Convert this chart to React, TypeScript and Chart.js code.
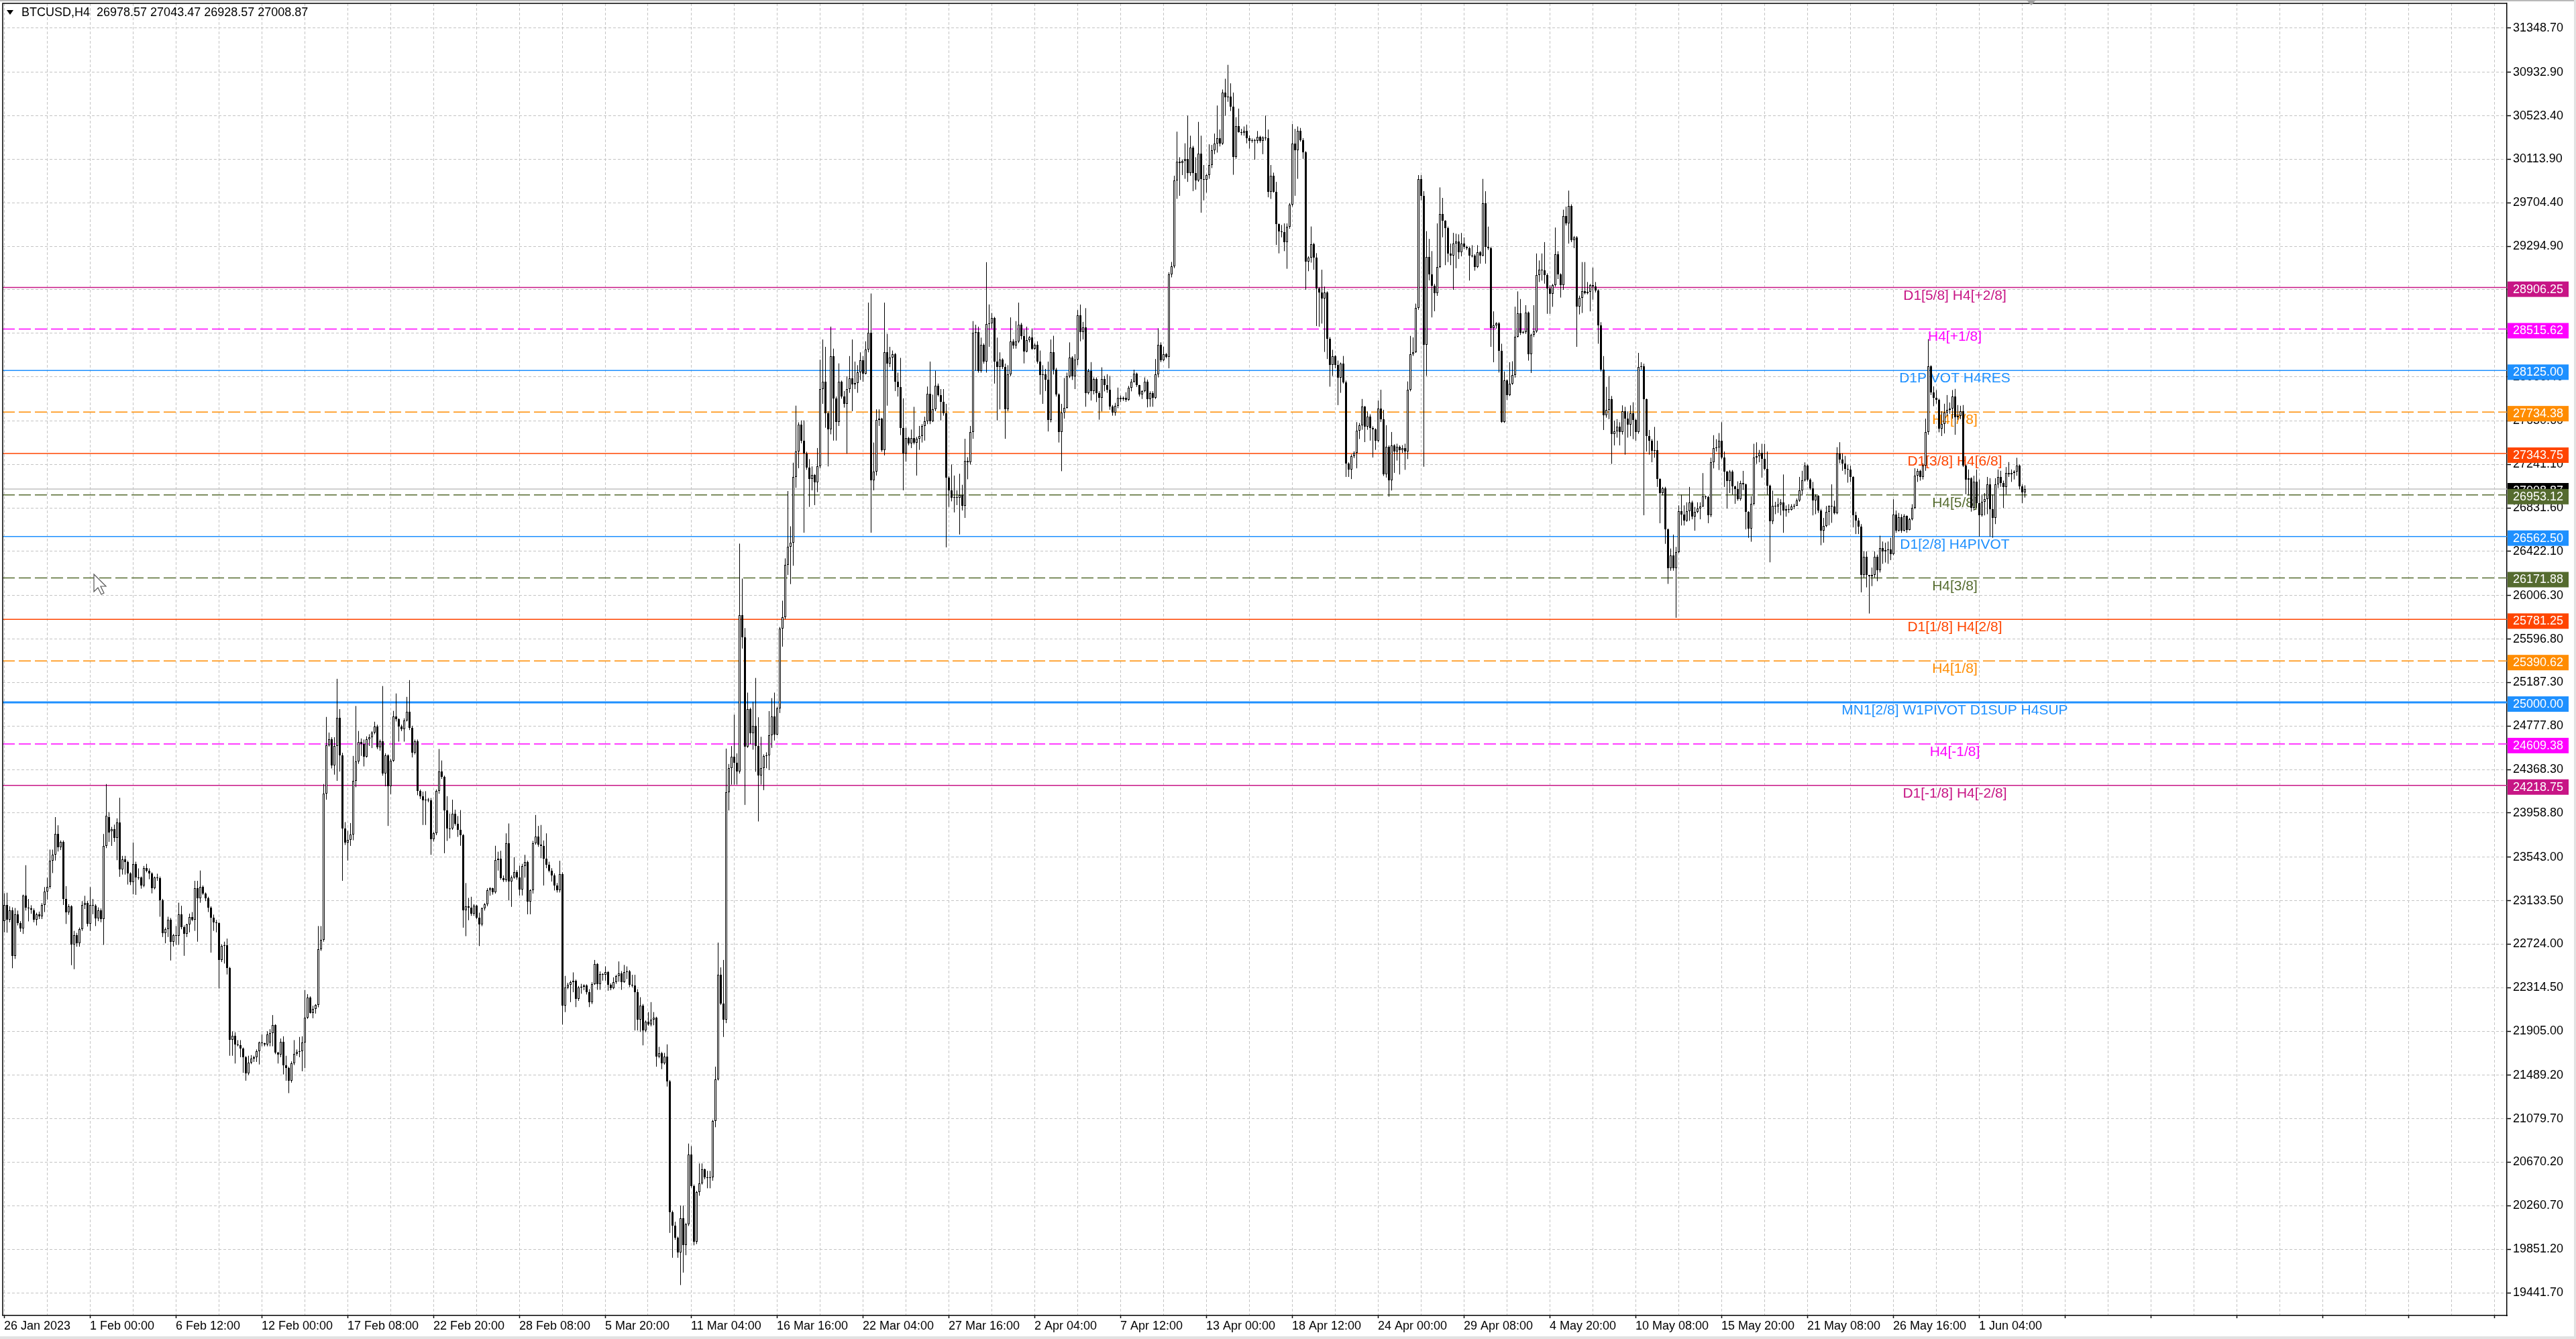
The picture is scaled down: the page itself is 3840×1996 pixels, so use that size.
import { useEffect, useRef } from "react";
import Chart from "chart.js/auto";

const SYMBOL = "BTCUSD";
const PERIOD = "H4";

// H4 bars as [open, high, low, close]
const janBars = [
  [22943,23202,22835,23093],[23093,23208,22832,22952],[22952,23080,22930,23041],[23041,23070,22497,22614],[22614,23064,22585,23005],[23005,23040,22900,22923],
  [22923,22940,22840,22873],[22873,23190,22820,23179],[23179,23467,23040,23067],[23067,23149,22938,23060],[23060,23090,23010,23050],[23041,23060,22930,22952],
  [22952,23020,22900,23002],[23002,23030,22960,22988],[22988,23110,22960,23093],[23093,23261,23026,23217],[23217,23349,23143,23261],[23261,23614,23246,23511],
  [23511,23614,23393,23564],[23564,23920,23511,23761],[23761,23843,23596,23634],[23634,23700,23610,23684],[23687,23700,23093,23152],[23152,23270,22914,23026],
  [23026,23100,23000,23079],[23079,23090,22526,22717],[22717,22849,22488,22806],[22806,22830,22700,22732],[22732,22880,22700,22864],[22864,23129,22849,23093],
  [23093,23179,23055,23114],[23114,23130,22890,22914],
];

const febBars = [
  [22914,23261,22849,23093],[23093,23149,23005,23090],[23085,23100,22894,22967],[22967,23070,22940,23040],[23040,23060,22930,22958],[22958,23761,22717,23649],
  [23649,24231,23628,23931],[23923,23967,23687,23776],[23790,23828,23649,23805],[23805,23849,23687,23723],[23723,23908,23514,23867],[23867,24102,23358,23426],
  [23426,23555,23379,23523],[23523,23555,23379,23496],[23496,23510,23285,23387],[23387,23400,23280,23305],[23305,23681,23193,23481],[23481,23500,23188,23349],
  [23349,23437,23330,23345],[23349,23360,23246,23276],[23276,23460,23260,23440],[23440,23480,23400,23414],[23414,23437,23335,23387],[23387,23400,23202,23252],
  [23252,23360,23240,23349],[23349,23387,23320,23343],[23343,23360,22982,23138],[23138,23150,22791,22826],[22826,22880,22732,22864],[22864,22982,22791,22952],
  [22952,22970,22570,22744],[22744,22820,22702,22806],[22806,22894,22717,22800],[22800,23114,22717,23005],[23005,23085,22864,22885],[22885,22900,22614,22820],
  [22820,22915,22791,22908],[22908,23011,22835,22982],[22982,23026,22940,22952],[22952,23320,22849,23252],[23252,23320,22747,23158],[23158,23417,23114,23261],
  [23261,23276,23188,23202],[23202,23210,23129,23158],[23158,23170,23026,23070],[23070,23080,22644,22973],[22973,23002,22849,22929],[22929,22952,22835,22925],
  [22925,22930,22306,22576],[22576,22723,22555,22708],[22708,22747,22541,22711],[22711,22776,22438,22497],[22497,22510,21673,21826],[21826,21903,21673,21864],
  [21864,21894,21600,21776],[21776,21820,21762,21770],[21770,21820,21659,21738],[21738,21750,21512,21659],[21659,21670,21438,21506],[21506,21673,21491,21609],
  [21609,21679,21594,21644],[21644,21673,21615,21659],[21659,21732,21615,21718],[21718,21806,21591,21797],[21797,21873,21762,21791],[21791,21795,21762,21776],
  [21776,21903,21762,21873],[21800,21923,21762,21885],[21885,22056,21762,21959],[21959,21970,21688,21703],[21703,21710,21600,21682],[21682,21835,21659,21803],
  [21803,21856,21497,21580],[21580,21673,21438,21556],[21556,21570,21321,21438],[21438,21620,21420,21600],[21600,21820,21585,21688],[21688,21732,21673,21712],
  [21712,21850,21659,21718],[21718,21856,21527,21797],[21797,22291,21556,22032],[22032,22253,22020,22223],[22223,22232,22070,22076],[22076,22144,22026,22114],
  [22114,22159,22070,22150],[22150,22894,22129,22673],[22673,22894,22660,22767],[22767,24231,22747,24143],[24143,24863,24084,24593],[24593,24716,24584,24652],
  [24652,24672,24378,24408],[24408,24672,24320,24590],[24590,25222,24261,24857],[24857,24937,24349,24502],[24502,24525,23320,23814],[23814,23873,23658,23681],
  [23681,23790,23511,23708],[23708,23864,23649,23755],[23755,24496,23702,24261],[24261,24966,24202,24446],[24446,24731,24422,24628],[24628,24660,24496,24610],
  [24610,24650,24397,24491],[24491,24680,24480,24655],[24655,24700,24590,24670],[24670,24730,24570,24715],[24715,24818,24700,24775],[24775,24790,24560,24575],
  [24575,24650,24545,24631],[24631,25154,24310,24328],[24328,24520,24210,24500],[24500,24510,23837,24210],[24210,24470,24136,24453],[24453,24920,24440,24865],
  [24865,25084,24820,24842],[24842,24850,24631,24771],[24771,24790,24730,24748],[24748,24850,24631,24832],[24832,25052,24820,24911],[24911,25210,24740,24762],
  [24762,24780,24482,24528],[24528,24650,24510,24631],[24631,24650,24126,24164],[24164,24180,24090,24117],[24117,24160,23846,24080],[24080,24164,23846,24085],
  [24085,24100,24060,24080],[24080,24100,23565,23710],[23710,23780,23690,23766],[23766,24180,23750,24164],[24164,24561,24140,24351],[24351,24453,24280,24300],
  [24300,24310,23580,23986],[23986,24117,23696,23813],[23813,23953,23720,23810],[23810,24084,23800,23953],[23953,23990,23840,23860],[23860,23930,23734,23799],
  [23799,23986,23650,23752],[23752,23760,22879,23042],[23042,23299,22799,23080],[23080,23159,22949,23070],[23070,23170,22990,23010],[23010,23100,22990,23089],
  [23089,23095,22960,22972],[22972,23020,22706,22911],[22911,23070,22893,23061],[23061,23110,23040,23098],[23098,23250,23080,23229],[23229,23260,23180,23248],
  [23248,23255,23190,23215],[23215,23650,23200,23519],[23519,23594,23416,23528],[23528,23603,23330,23346],[23346,23370,23310,23328],[23328,23767,23310,23673],
  [23673,23860,23135,23313],[23313,23370,23075,23350],[23350,23542,23340,23402],[23402,23420,23330,23350],[23350,23463,23182,23238],[23238,23480,23182,23460],
  [23460,23565,23350,23495],[23495,23510,23005,23126],
];

const marBars = [
  [23126,23240,23005,23229],[23229,23696,23200,23673],[23673,23940,23660,23734],[23734,23837,23640,23659],[23659,23846,23533,23650],[23650,23700,23276,23528],
  [23528,23767,23439,23472],[23472,23500,23400,23416],[23416,23439,23313,23369],[23369,23390,23229,23276],[23276,23300,23210,23229],[23229,23509,23210,23383],
  [23383,23400,21967,22145],[22145,22425,22084,22318],[22318,22360,22300,22341],[22341,22380,22178,22365],[22365,22458,22271,22378],[22378,22390,22131,22210],
  [22210,22330,22190,22318],[22318,22350,22257,22325],[22325,22345,22290,22332],[22332,22345,22250,22271],[22271,22300,22131,22178],[22178,22365,22160,22350],
  [22350,22575,22340,22537],[22537,22545,22294,22350],[22350,22467,22294,22444],[22444,22450,22380,22435],[22435,22514,22380,22458],[22458,22470,22285,22341],
  [22341,22355,22290,22308],[22308,22411,22300,22365],[22365,22435,22350,22421],[22421,22561,22370,22449],[22449,22470,22294,22365],[22365,22528,22360,22458],
  [22458,22514,22395,22470],[22470,22480,22320,22341],[22341,22435,22318,22335],[22335,22435,21911,22271],[22271,22300,21911,22014],[22014,22224,21897,22145],
  [22145,22160,21771,21911],[21911,22005,21895,21991],[21991,22084,21955,21970],[21970,22178,21950,22014],[22014,22084,21960,22030],[22030,22040,21570,21664],
  [21664,21757,21650,21697],[21697,21710,21547,21603],[21603,21700,21590,21664],[21664,21780,21383,21430],[21430,21445,20005,20201],[20201,20215,19771,20075],
  [20075,20110,19940,19958],[19958,19970,19771,19818],[19818,20262,19514,20145],[20145,20262,19631,19888],[19888,20100,19795,20089],[20089,20846,20070,20743],
  [20743,20822,20430,20449],[20449,20460,19888,19921],[19921,20400,19900,20392],[20392,20659,20355,20472],[20472,20659,20460,20603],[20603,20610,20510,20528],
  [20528,20589,20425,20519],[20519,20589,20425,20528],[20528,21070,20496,21056],[21056,21570,21000,21453],[21453,22738,21440,22435],[22435,22505,22150,22164],
  [22164,22575,21850,22014],[22014,24565,21980,24156],[24156,24420,23983,24382],[24382,24589,24226,24486],[24486,24884,24226,24430],[24430,24520,24226,24347],
  [24347,26495,24330,25819],[25819,26166,25507,25611],[25611,25700,24035,24582],[24582,25092,24572,24936],[24936,24950,24607,24710],[24710,25005,24555,24780],
  [24780,25230,24347,24589],[24589,24860,23879,24312],[24312,24676,24226,24382],[24382,24510,24174,24496],[24496,24530,24380,24500],[24500,24918,24364,24693],
  [24693,25040,24572,24866],[24866,25092,24641,24700],[24700,24960,24690,24946],[24946,25710,24900,25698],[25698,25958,25525,25802],[25802,26356,25784,26294],
  [26294,26990,26200,26467],[26467,26658,26114,26502],[26502,27257,26287,27125],[27125,27794,27021,27361],[27361,27637,27205,27613],[27613,27655,27440,27465],
  [27465,27655,26598,27343],[27343,27360,27190,27212],[27212,27291,26841,27101],[27101,27222,26997,27143],[27143,27150,26858,27073],[27073,27395,26980,27222],
  [27222,28227,27205,27950],[27950,28417,27811,28019],[28019,28348,27586,27724],[27724,27740,27222,27569],[27569,28538,27524,28261],[28261,28331,27465,27863],
  [27863,27880,27465,27638],[27638,28192,27603,28019],[28019,28030,27860,27880],[27880,27932,27776,27811],[27811,28071,27343,27950],[27950,28261,27915,28054],
  [28054,28417,27742,27995],[27995,28209,27950,28009],[28009,28175,27915,28105],[28105,28296,28036,28220],[28220,28261,28019,28098],[28098,28400,28088,28320],
  [28320,28764,28296,28480],[28480,28850,26598,27094],[27094,27447,26997,27170],[27170,27759,27136,27662],[27662,27759,27603,27672],[27672,27680,27360,27378],
  [27378,28764,27326,28296],[28296,28469,27794,28192],[28192,28348,28157,28244],[28244,28313,28123,28279],[28279,28290,27932,28019],[28019,28105,27880,27967],
  [27967,28244,27517,27586],[27586,27863,26997,27343],[27343,27586,27267,27489],[27489,27500,27420,27440],[27440,27569,27395,27489],[27489,27783,27430,27447],
  [27447,27500,27136,27482],[27482,27603,27378,27510],[27510,27620,27447,27603],[27603,27690,27465,27648],[27648,27974,27620,27905],[27905,28209,27620,27648],
  [27648,27898,27640,27759],[27759,28123,27742,27984],[27984,28002,27880,27891],[27891,27950,27655,27828],[27828,27950,27700,27724],[27724,27811,26460,27118],
  [27118,27130,26841,26997],[26997,27240,26893,26928],[26928,27136,26789,26935],[26935,26997,26858,26928],[26928,27153,26581,26955],[26955,27049,26807,26848],
  [26848,27482,26737,27274],[27274,27309,27101,27260],[27260,27603,27240,27544],[27544,28590,27482,28480],[28480,28556,28123,28487],[28487,28538,28105,28123],
  [28123,28435,28105,28365],[28365,28380,28190,28209],[28209,29145,28105,28563],[28563,28747,28348,28570],[28570,28667,28521,28618],[28618,28630,28002,28209],
  [28209,28435,27655,28157],[28157,28296,27759,28227],[28227,28240,28140,28157],[28157,28190,27482,27759],[27759,28175,27742,28088],[28088,28625,28071,28400],
  [28400,28420,28330,28358],
];

const aprBars = [
  [28358,28590,28331,28400],[28400,28764,28383,28556],[28556,28573,28417,28452],[28452,28510,28192,28306],[28306,28538,28296,28410],[28410,28450,28390,28435],
  [28435,28521,28320,28331],[28331,28380,28320,28365],[28365,28400,28190,28209],[28209,28313,27898,28081],[28081,28175,27811,28088],[28088,28140,27932,28036],
  [28036,28209,27551,27662],[27662,28417,27637,28296],[28296,28452,28088,28133],[28133,28150,27880,27898],[27898,27910,27447,27544],[27544,27811,27177,27731],
  [27731,28054,27672,27776],[27776,28105,27766,28071],[28071,28390,28054,28244],[28244,28260,28036,28071],[28071,28279,27950,28227],[28227,28694,28175,28643],
  [28643,28746,28400,28487],[28487,28583,28417,28530],[28530,28712,27784,27915],[27915,28140,27900,28121],[28121,28204,27842,27929],[27929,28060,27900,28045],
  [28045,28060,27828,27915],[27915,27930,27662,27871],[27871,28155,27740,28045],[28045,28074,27929,27990],[27990,28090,27915,27944],[27944,28074,27755,27784],
  [27784,27800,27700,27726],[27726,27820,27700,27790],[27790,27964,27770,27871],[27871,27890,27828,27857],[27857,27880,27840,27871],[27871,27920,27830,27850],
  [27850,27980,27840,27964],[27964,28045,27929,28022],[28022,28132,28010,28097],[28097,28105,27970,27987],[27987,27990,27880,27900],[27900,27940,27857,27929],
  [27929,28060,27920,28022],[28022,28040,27778,27857],[27857,27929,27784,27915],[27915,27930,27784,27871],[27871,28233,27857,28089],[28089,28523,28060,28370],
  [28370,28390,28204,28219],[28219,28349,28213,28277],[28277,28290,28240,28254],[28254,29050,28146,29031],[29031,29147,29002,29104],[29104,29959,29089,29915],
  [29915,30374,29741,30089],[30089,30133,29770,30080],[30080,30110,29965,30098],[30098,30264,29930,30118],[30118,30525,29901,29982],[29982,30336,29959,30226],
  [30226,30240,29814,29982],[29982,30133,29828,29915],[29915,30466,29901,30168],[30168,30336,29611,29924],[29924,30060,29727,29920],[29920,29974,29800,29968],
  [29968,30255,29930,30060],[30060,30249,30031,30197],[30197,30356,30162,30264],[30264,30620,30177,30313],[30313,30394,30235,30261],[30261,30771,30249,30742],
  [30742,30872,30525,30699],[30699,31003,30655,30707],[30707,30829,30568,30612],[30612,30742,29968,30133],[30133,30510,30118,30429],[30429,30591,30365,30371],
  [30371,30400,30340,30365],[30365,30423,30336,30379],[30379,30440,30264,30313],[30313,30336,30214,30284],[30284,30310,30270,30295],[30295,30307,30110,30290],
  [30290,30380,30264,30322],[30322,30335,30270,30284],[30284,30330,30162,30319],[30319,30525,30290,30310],[30310,30394,29756,29808],[29808,30060,29741,29959],
  [29959,29988,29800,29808],[29808,29901,29307,29501],[29501,29510,29228,29437],[29437,29495,29379,29430],[29430,29510,29249,29336],[29336,29510,29083,29481],
  [29481,29700,29460,29684],[29684,30446,29669,30264],[30264,30400,29770,30197],[30197,30423,29930,30380],[30380,30409,30280,30293],[30293,30313,30118,30177],
  [30177,30190,28886,29153],[29153,29200,29060,29185],[29185,29481,29141,29315],[29315,29327,29074,29185],[29185,29230,28544,28900],[28900,28910,28538,28857],
  [28857,29074,28567,28800],[28800,28915,28300,28857],[28857,28870,28233,28422],[28422,28440,27973,28175],[28175,28320,28074,28262],[28262,28270,28146,28175],
  [28175,28219,27799,28060],[28060,28200,27915,28190],[28190,28262,28002,28016],[28016,28030,27123,27248],[27248,27260,27123,27190],[27190,27335,27103,27320],
  [27320,27364,27300,27349],[27349,27639,27204,27558],[27558,27630,27480,27610],[27610,27857,27567,27784],[27784,27790,27451,27596],[27596,27740,27567,27691],
  [27691,27712,27465,27581],[27581,27600,27306,27570],[27570,27580,27378,27465],[27465,27842,27450,27770],[27770,27944,27639,27668],[27668,27755,27132,27146],
  [27146,27610,27117,27407],[27407,27420,26937,27088],[27088,27546,26995,27422],[27422,27430,27161,27364],[27364,27436,27277,27407],[27407,27420,27146,27378],
  [27378,27422,27349,27393],[27393,27436,27190,27364],[27364,28022,27291,27944],[27944,28451,27929,28277],[28277,28437,28262,28300],[28300,28755,28291,28712],
  [28712,29965,28697,29930],[29930,29965,29727,29770],[29770,29814,27219,28370],[28370,29437,28074,29196],[29196,29364,28973,29031],[29031,29249,28625,28924],
  [28924,28940,28683,28851],[28851,29510,28828,29098],[29098,29849,29089,29596],[29596,29750,29379,29538],[29538,29540,29117,29465],[29465,29480,29146,29227],
  [29227,29320,29117,29204],[29204,29421,28885,29320],[29320,29413,29088,29340],[29340,29407,29175,29239],[29239,29420,29200,29320],[29320,29378,29270,29291],
  [29291,29300,29260,29277],[29277,29290,28972,29204],[29204,29305,29190,29210],[29210,29220,29065,29100],[29100,29305,29090,29239],[29239,29250,29131,29210],
  [29210,29929,29200,29697],[29697,29813,29131,29291],[29291,29480,29260,29277],[29277,29290,28348,28522],[28522,28682,28203,28551],
];

const mayBars = [
  [28551,28580,28520,28566],[28566,28580,28106,28313],[28313,28377,27632,27638],[27638,28116,27632,28029],[28029,28040,27847,27893],[27893,28203,27885,28000],
  [28000,28212,27990,28082],[28082,28726,28058,28444],[28444,28870,28436,28662],[28662,28798,28460,28479],[28479,28500,28470,28485],[28485,28740,28470,28667],
  [28667,28680,28218,28276],[28276,28470,28102,28459],[28459,28740,28440,28494],[28494,29227,28480,29024],[29024,29161,28958,29073],[29073,29227,28972,29070],
  [29070,29334,28943,29024],[29024,29040,28659,28900],[28900,28928,28659,28850],[28850,28940,28725,28928],[28928,29471,28914,29219],[29219,29248,28986,29030],
  [29030,29040,28812,28928],[28928,29639,28885,29581],[29581,29668,29490,29508],[29508,29819,29320,29674],[29674,29690,29334,29355],[29355,29392,29277,29378],
  [29378,29390,28348,28725],[28725,28830,28653,28812],[28812,29146,28667,28870],[28870,29146,28842,28856],[28856,28958,28842,28863],[28863,28940,28682,28928],
  [28928,29094,28792,28914],[28914,28958,28860,28879],[28879,28890,28377,28551],[28551,28580,28116,28131],[28131,28261,27565,27702],[27702,27971,27681,27754],
  [27754,28073,27667,27855],[27855,27885,27246,27528],[27528,27653,27420,27551],[27551,27667,27493,27595],[27595,27638,27420,27548],[27548,27797,27522,27740],
  [27740,27783,27333,27673],[27673,27740,27493,27615],[27615,27797,27507,27725],[27725,27826,27479,27661],[27661,27670,27464,27545],[27545,28291,27530,28160],
  [28160,28203,28131,28166],[28166,28189,26762,27855],[27855,27860,27362,27507],[27507,27565,27333,27464],[27464,27480,27261,27371],[27371,27594,27304,27377],
  [27377,27464,27029,27102],[27102,27110,26687,26971],[26971,27029,26950,27015],[27015,27030,26493,26629],[26629,26637,26116,26261],[26261,26449,26240,26385],
  [26385,26580,26240,26261],[26261,26464,25797,26414],[26414,26855,26406,26803],[26803,26956,26666,26768],[26768,26855,26666,26710],[26710,26884,26700,26803],
  [26803,27029,26710,26884],[26884,26899,26724,26753],[26753,26841,26617,26797],[26797,26884,26782,26826],[26826,26884,26724,26846],[26846,27159,26841,26942],
  [26942,26948,26913,26936],[26936,26945,26687,26762],[26762,27304,26745,27261],[27261,27516,27203,27397],[27397,27478,27362,27400],[27400,27536,27188,27464],
  [27464,27638,27290,27304],[27304,27362,27029,27174],[27174,27180,26826,27087],[27087,27188,26971,27174],[27174,27188,26956,27035],[27035,27040,26870,27006],
  [27006,27081,26899,26913],[26913,27087,26899,27064],[27064,27180,27000,27052],[27052,27060,26629,26791],[26791,26800,26550,26637],[26637,26942,26513,26870],
  [26870,27435,26855,27304],[27304,27449,27246,27319],[27319,27377,27261,27348],[27348,27435,27116,27290],[27290,27435,27188,27197],[27197,27362,26956,27038],
  [27038,27050,26319,26704],[26704,26994,26679,26850],[26850,26889,26772,26845],[26845,26924,26784,26866],[26866,26913,26761,26885],[26885,27146,26597,26807],
  [26807,26854,26749,26819],[26819,26866,26784,26810],[26810,26866,26807,26847],[26847,26870,26820,26854],[26854,26920,26850,26901],[26901,27123,26889,26994],
  [26994,27181,26948,27088],[27088,27260,27080,27228],[27228,27240,27080,27100],[27100,27110,27000,27018],[27018,27076,26761,26901],[26901,26960,26772,26948],
  [26948,26950,26784,26807],[26807,26820,26480,26620],[26620,26737,26504,26663],[26663,26849,26650,26796],[26796,26854,26667,26849],[26849,27053,26691,26842],
  [26842,26900,26770,26784],[26784,27403,26772,27345],[27345,27450,27251,27286],[27286,27345,27181,27251],[27251,27321,27146,27200],[27200,27240,27069,27195],
  [27195,27228,27076,27123],[27123,27130,26648,26765],[26765,26796,26585,26709],[26709,26737,26585,26656],[26656,26679,26036,26200],[26200,26422,26176,26368],
  [26368,26422,26083,26200],[26200,26200,25837,26188],[26188,26270,26095,26200],[26200,26422,26176,26368],[26368,26391,26141,26242],[26242,26569,26223,26452],
  [26452,26515,26305,26422],[26422,26504,26317,26433],[26433,26515,26305,26438],[26438,26550,26340,26398],[26398,26913,26386,26772],[26772,26807,26597,26616],
  [26616,26784,26609,26742],[26742,26772,26597,26620],[26620,26772,26610,26757],[26757,26760,26597,26625],[26625,26737,26620,26726],[26726,26866,26714,26835],
  [26835,27205,26820,27134],[27134,27200,27076,27181],[27181,27190,27088,27123],[27123,27251,27099,27228],[27228,27672,27181,27543],[27543,28420,27520,28162],
  [28162,28174,27894,27917],[27917,27976,27789,27871],[27871,27941,27812,27847],[27847,27860,27543,27578],[27578,27742,27508,27620],[27620,27812,27532,27730],
  [27730,27894,27695,27754],[27754,27824,27719,27765],[27765,27941,27672,27882],[27882,27952,27520,27684],[27684,27800,27660,27700],[27700,27793,27667,27742],
  [27742,27800,27216,27228],[27228,27240,26959,27099],[27099,27193,26948,27111],[27111,27120,26796,26831],[26831,27134,26807,27076],[27076,27193,26831,26877],
  [26877,27099,26562,26765],[26765,26959,26749,26889],
];

const junBars = [
  [26889,26971,26761,26913],[26913,27123,26772,27053],[27053,27111,26562,26819],[26819,26959,26550,26737],[26737,27111,26679,27053],[27053,27193,27018,27123],
  [27123,27181,27030,27064],[27064,27088,26831,27030],[27030,27216,26959,27158],[27158,27263,27123,27146],[27146,27193,27076,27158],[27158,27186,27099,27170],
  [27170,27303,27134,27228],[27228,27240,27006,27036],[27036,27053,26877,26978.57],[26978.57,27043.47,26928.57,27008.87],
];

const dateLabels = [
  "26 Jan 2023", "1 Feb 00:00", "6 Feb 12:00", "12 Feb 00:00", "17 Feb 08:00", "22 Feb 20:00",
  "28 Feb 08:00", "5 Mar 20:00", "11 Mar 04:00", "16 Mar 16:00", "22 Mar 04:00", "27 Mar 16:00",
  "2 Apr 04:00", "7 Apr 12:00", "13 Apr 00:00", "18 Apr 12:00", "24 Apr 00:00", "29 Apr 08:00",
  "4 May 20:00", "10 May 08:00", "15 May 20:00", "21 May 08:00", "26 May 16:00", "1 Jun 04:00",
];

const priceTicks = [
  31348.7, 30932.9, 30523.4, 30113.9, 29704.4, 29294.9, 28885.4, 28475.9, 28066.4, 27650.6,
  27241.1, 26831.6, 26422.1, 26006.3, 25596.8, 25187.3, 24777.8, 24368.3, 23958.8, 23543.0,
  23133.5, 22724.0, 22314.5, 21905.0, 21489.2, 21079.7, 20670.2, 20260.7, 19851.2, 19441.7,
];

const levelPrices = [
  28906.25, 28515.62, 28125.0, 27734.38, 27343.75, 26953.12, 26562.5,
  26171.88, 25781.25, 25390.62, 25000.0, 24609.38, 24218.75,
];
const levelTexts = [
  "D1[5/8] H4[+2/8]", "H4[+1/8]", "D1PIVOT H4RES", "H4[7/8]", "D1[3/8] H4[6/8]", "H4[5/8]", "D1[2/8] H4PIVOT",
  "H4[3/8]", "D1[1/8] H4[2/8]", "H4[1/8]", "MN1[2/8] W1PIVOT D1SUP H4SUP", "H4[-1/8]", "D1[-1/8] H4[-2/8]",
];

const PRICE_MIN = 19227;
const PRICE_MAX = 31582;

// styling (kept apart from the values)
const DASHED = [18, 6];
const LEVEL_STYLES = [
  { color: "#C71585", dash: [], width: 1.5 },
  { color: "#FF00FF", dash: DASHED, width: 1.5 },
  { color: "#1E90FF", dash: [], width: 1.5 },
  { color: "#FF8C00", dash: DASHED, width: 1.5 },
  { color: "#FF4500", dash: [], width: 1.5 },
  { color: "#556B2F", dash: DASHED, width: 1.5 },
  { color: "#1E90FF", dash: [], width: 1.5 },
  { color: "#556B2F", dash: DASHED, width: 1.5 },
  { color: "#FF4500", dash: [], width: 1.5 },
  { color: "#FF8C00", dash: DASHED, width: 1.5 },
  { color: "#1E90FF", dash: [], width: 3 },
  { color: "#FF00FF", dash: DASHED, width: 1.5 },
  { color: "#C71585", dash: [], width: 1.5 },
];
const FONT = "Liberation Sans";
const GRID = "#C4C4C4";
const BARS_PER_LABEL = 32;
const BARS_PER_GRID = 16;
const VISIBLE_BARS = 933.25; // chart width in bars, incl. the empty shift on the right

const bars = [...janBars, ...febBars, ...marBars, ...aprBars, ...mayBars, ...junBars];

const gridTicks: number[] = [];
for (let v = 0; v <= VISIBLE_BARS - 1; v += BARS_PER_GRID) gridTicks.push(v);

const mt4Plugin = {
  id: "mt4",
  beforeDraw(chart: any) {
    const { ctx, width, height } = chart;
    ctx.save();
    ctx.fillStyle = "#fff";
    ctx.fillRect(0, 0, width, height);
    ctx.restore();
  },
  beforeDatasetsDraw(chart: any) {
    const { ctx, chartArea: a, scales } = chart;
    const ys = scales.y;
    const xs = scales.x;
    ctx.save();
    ctx.beginPath();
    ctx.rect(a.left, a.top, a.right - a.left, a.bottom - a.top);
    ctx.clip();

    // bid line
    const last = bars[bars.length - 1];
    const yb = ys.getPixelForValue(last[3]);
    ctx.strokeStyle = "#C0C0C0";
    ctx.lineWidth = 1.5;
    ctx.setLineDash([]);
    ctx.beginPath();
    ctx.moveTo(a.left, yb);
    ctx.lineTo(a.right, yb);
    ctx.stroke();

    levelPrices.forEach((p, i) => {
      const st = LEVEL_STYLES[i];
      const y = ys.getPixelForValue(p);
      ctx.strokeStyle = st.color;
      ctx.lineWidth = st.width;
      ctx.setLineDash(st.dash);
      ctx.beginPath();
      ctx.moveTo(a.left, y);
      ctx.lineTo(a.right, y);
      ctx.stroke();
    });

    ctx.setLineDash([]);
    ctx.font = `21px "${FONT}"`;
    ctx.textAlign = "center";
    ctx.textBaseline = "alphabetic";
    const lx = xs.getPixelForValue(bars.length - 27);
    levelPrices.forEach((p, i) => {
      const y = ys.getPixelForValue(p);
      ctx.fillStyle = LEVEL_STYLES[i].color;
      ctx.fillText(levelTexts[i], lx, y + 18);
    });
    ctx.restore();
  },
  afterDatasetsDraw(chart: any) {
    const { ctx, chartArea: a, scales } = chart;
    const xs = scales.x;
    const ys = scales.y;
    ctx.save();
    ctx.beginPath();
    ctx.rect(a.left, a.top, a.right - a.left, a.bottom - a.top);
    ctx.clip();
    bars.forEach(([o, h, l, c], i) => {
      const px = Math.round(xs.getPixelForValue(i));
      const yh = ys.getPixelForValue(h);
      const yl = ys.getPixelForValue(l);
      const top = Math.round(ys.getPixelForValue(Math.max(o, c)));
      const bot = Math.round(ys.getPixelForValue(Math.min(o, c)));
      const bh = Math.max(1, bot - top);
      ctx.fillStyle = "#000";
      ctx.fillRect(px, yh, 1, Math.max(1, yl - yh));
      ctx.fillRect(px - 1, top, 3, bh);
      if (c > o && bh > 2) {
        ctx.fillStyle = "#fff";
        ctx.fillRect(px, top + 1, 1, bh - 2);
      }
    });
    ctx.restore();
  },
  afterDraw(chart: any) {
    const { ctx, chartArea: a, scales, width, height } = chart;
    const ys = scales.y;
    const xs = scales.x;
    ctx.save();

    // window frame
    ctx.fillStyle = "#B8B8B8";
    ctx.fillRect(0, 0, width, 2);
    ctx.fillStyle = "#E2E2E2";
    ctx.fillRect(width - 3, 0, 3, height);
    ctx.fillRect(0, height - 4, width, 4);
    ctx.strokeStyle = "#000";
    ctx.lineWidth = 1.5;
    ctx.beginPath();
    ctx.moveTo(a.left, a.bottom);
    ctx.lineTo(a.left, a.top);
    ctx.lineTo(a.right, a.top);
    ctx.stroke();

    // shift marker
    const sx = xs.getPixelForValue(bars.length + 1.5);
    ctx.fillStyle = "#A0A0A0";
    ctx.beginPath();
    ctx.moveTo(sx - 7, 0);
    ctx.lineTo(sx + 7, 0);
    ctx.lineTo(sx, 8);
    ctx.closePath();
    ctx.fill();

    // price labels on the axis
    const boxX = ys.left + 1;
    const boxW = 91;
    const drawBox = (price: number, bg: string) => {
      const y = ys.getPixelForValue(price);
      ctx.fillStyle = bg;
      ctx.fillRect(boxX, y - 9, boxW, 23);
      ctx.fillStyle = "#fff";
      ctx.fillText(price.toFixed(2), ys.left + 9, y + 3);
    };
    ctx.font = `18px "${FONT}"`;
    ctx.textAlign = "left";
    ctx.textBaseline = "middle";
    const last = bars[bars.length - 1];
    drawBox(last[3], "#000");
    levelPrices.forEach((p, i) => drawBox(p, LEVEL_STYLES[i].color));

    // header
    ctx.fillStyle = "#000";
    ctx.beginPath();
    ctx.moveTo(10, 15);
    ctx.lineTo(20, 15);
    ctx.lineTo(15, 22);
    ctx.closePath();
    ctx.fill();
    ctx.font = `18px "${FONT}"`;
    ctx.textBaseline = "middle";
    const [o, h, l, c] = last;
    ctx.fillText(`${SYMBOL},${PERIOD}  ${o.toFixed(2)} ${h.toFixed(2)} ${l.toFixed(2)} ${c.toFixed(2)}`, 32, 19);

    // mouse pointer left on the chart
    const cx = 140;
    const cy = 856;
    ctx.beginPath();
    ctx.moveTo(cx, cy);
    ctx.lineTo(cx, cy + 26);
    ctx.lineTo(cx + 6, cy + 20);
    ctx.lineTo(cx + 11, cy + 30);
    ctx.lineTo(cx + 15, cy + 28);
    ctx.lineTo(cx + 10, cy + 18);
    ctx.lineTo(cx + 18, cy + 18);
    ctx.closePath();
    ctx.fillStyle = "#fff";
    ctx.fill();
    ctx.strokeStyle = "#555";
    ctx.lineWidth = 1.2;
    ctx.stroke();
    ctx.restore();
  },
};

function BtcChart() {
  const canvasRef = useRef<HTMLCanvasElement>(null);
  const chartRef = useRef<any>(null);

  useEffect(() => {
    document.body.style.margin = "0";
    if (!canvasRef.current) return;
    if (chartRef.current) chartRef.current.destroy();

    chartRef.current = new Chart(canvasRef.current, {
      type: "line",
      data: {
        datasets: [
          {
            data: bars.map((b, i) => ({ x: i, y: b[3] })),
            showLine: false,
            pointRadius: 0,
            borderWidth: 0,
          },
        ],
      },
      options: {
        responsive: false,
        animation: false,
        devicePixelRatio: 1,
        events: [],
        layout: { padding: { left: 4, top: 5, right: 0, bottom: 0 } },
        plugins: { legend: { display: false }, tooltip: { enabled: false } },
        scales: {
          x: {
            type: "linear",
            position: "bottom",
            min: -0.5,
            max: VISIBLE_BARS - 0.5,
            afterBuildTicks: (s: any) => {
              s.ticks = gridTicks.map((v) => ({ value: v }));
            },
            afterFit: (s: any) => {
              s.height = 35;
              s.paddingLeft = 0;
              s.paddingRight = 0;
            },
            ticks: {
              autoSkip: false,
              maxRotation: 0,
              minRotation: 0,
              align: "start",
              padding: 1,
              color: "#000",
              font: { family: FONT, size: 18 },
              callback: (v: any) => (v % BARS_PER_LABEL === 0 ? dateLabels[v / BARS_PER_LABEL] ?? "" : ""),
            },
            grid: {
              color: GRID,
              lineWidth: 1,
              tickLength: 4,
              tickWidth: 1.5,
              tickColor: (c: any) => (c.index % 2 === 0 ? "#000" : "rgba(0,0,0,0)"),
            },
            border: { display: true, color: "#000", width: 1.5, dash: [4, 3] },
          },
          y: {
            type: "linear",
            position: "right",
            min: PRICE_MIN,
            max: PRICE_MAX,
            afterBuildTicks: (s: any) => {
              s.ticks = priceTicks.map((v) => ({ value: v }));
            },
            afterFit: (s: any) => {
              s.width = 103;
              s.paddingTop = 0;
              s.paddingBottom = 0;
            },
            ticks: {
              autoSkip: false,
              padding: 3,
              color: "#000",
              font: { family: FONT, size: 18 },
              callback: (v: any) => Number(v).toFixed(2),
            },
            grid: { color: GRID, lineWidth: 1, tickLength: 6, tickWidth: 1.5, tickColor: "#000" },
            border: { display: true, color: "#000", width: 1.5, dash: [4, 3] },
          },
        },
      },
      plugins: [mt4Plugin],
    } as any);

    return () => chartRef.current?.destroy();
  }, []);

  return <canvas ref={canvasRef} width={3840} height={1996} style={{ display: "block", width: 3840, height: 1996 }} />;
}

export default function App() {
  return <BtcChart />;
}
